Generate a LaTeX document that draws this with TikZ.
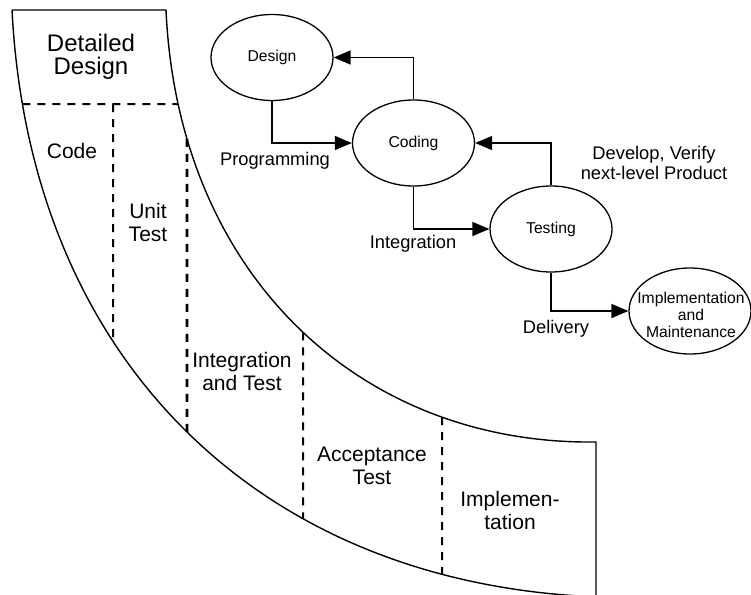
\documentclass[tikz,border=0pt]{standalone}
\usepackage{fontspec}
\setmainfont{Liberation Sans}
\usetikzlibrary{arrows.meta,shapes.geometric,intersections}
\begin{document}
\begin{tikzpicture}[x=1pt,y=-1pt,
  band/.style={line width=1.4pt},
  divider/.style={line width=2pt, dash pattern=on 8pt off 7pt},
  thickdivider/.style={line width=2.8pt, dash pattern=on 8pt off 7pt},
  stage/.style={draw, ellipse, line width=1.3pt, minimum width=122pt, minimum height=86pt, inner sep=0pt, font=\fontsize{15.7}{17}\selectfont},
  flow/.style={line width=1.5pt, -{Triangle[length=17pt,width=14pt]}},
  phase/.style={align=center, font=\fontsize{21}{23}\selectfont},
  flowlabel/.style={align=center, font=\fontsize{18.3}{20}\selectfont},
]
\useasboundingbox (0,0) rectangle (751,594);
\clip (0,0) rectangle (751,594);

% band outline
\coordinate (tl) at (12,10);
\coordinate (tr) at (166,10);
\coordinate (rc) at (596,442);
\coordinate (rb) at (596,600);
\coordinate (ob) at (600,597);
\draw[band, name path=inner] (tl) -- (tr) .. controls (178,275) and (360,445) .. (rc) -- (rb);
\draw[band, name path=outer] (tl) .. controls (30,360) and (260,585) .. (ob);

% dividers
\path[name path=h1] (0,104) -- (300,104);
\path[name intersections={of=h1 and outer, by=h1o}];
\path[name intersections={of=h1 and inner, by=h1i}];
\draw[divider] (h1o) -- (h1i);

\coordinate (v1t) at (113,104);
\path[name path=v1] (113,0) -- (113,600);
\path[name intersections={of=v1 and outer, by=v1o}];
\draw[divider] (v1t) -- (v1o);

\path[name path=v2] (187,120) -- (187,600);
\path[name intersections={of=v2 and inner, by=v2i}];
\path[name intersections={of=v2 and outer, by=v2o}];
\draw[thickdivider] (v2i) -- (v2o);

\path[name path=v3] (303,200) -- (303,600);
\path[name intersections={of=v3 and inner, by=v3i}];
\path[name intersections={of=v3 and outer, by=v3o}];
\draw[divider] (v3i) -- (v3o);

\path[name path=v4] (442,300) -- (442,600);
\path[name intersections={of=v4 and inner, by=v4i}];
\path[name intersections={of=v4 and outer, by=v4o}];
\draw[divider] (v4i) -- (v4o);

% phase labels
\node[align=center, font=\fontsize{24}{22.5}\selectfont] (dd) at (91,57) {Detailed\\Design};
\node[phase] (code) at (72,150.5) {Code};
\node[phase] (unit) at (148,222.5) {Unit\\Test};
\node[phase] (intt) at (242,371.5) {Integration\\and Test};
\node[phase] (acc) at (372,466) {Acceptance\\Test};
\node[phase] (impph) at (510,510) {Implemen-\\tation};

% stages
\node[stage] (design) at (272,57.5) {Design};
\node[stage] (coding) at (413.5,143) {Coding};
\node[stage] (testing) at (551,229) {Testing};
\node[stage] (impl) at (690,311) {};
\node[align=center, font=\fontsize{15.7}{17}\selectfont] (impltext) at (691,315) {Implementation\\and\\Maintenance};

% connectors
\draw[flow] (design.south) |- (coding.west);
\draw[flow] (coding.north) |- (design.east);
\draw[flow] (coding.south) |- (testing.west);
\draw[flow] (testing.north) |- (coding.east);
\draw[flow] (testing.south) |- (impl.west);

% connector labels
\node[flowlabel] (lprog) at (275,160.3) {Programming};
\node[flowlabel] (lint) at (413,243.3) {Integration};
\node[flowlabel] (ldel) at (556,328.3) {Delivery};
\node[flowlabel] (ldev) at (654,163.3) {Develop, Verify\\next-level Product};
\end{tikzpicture}
\end{document}
